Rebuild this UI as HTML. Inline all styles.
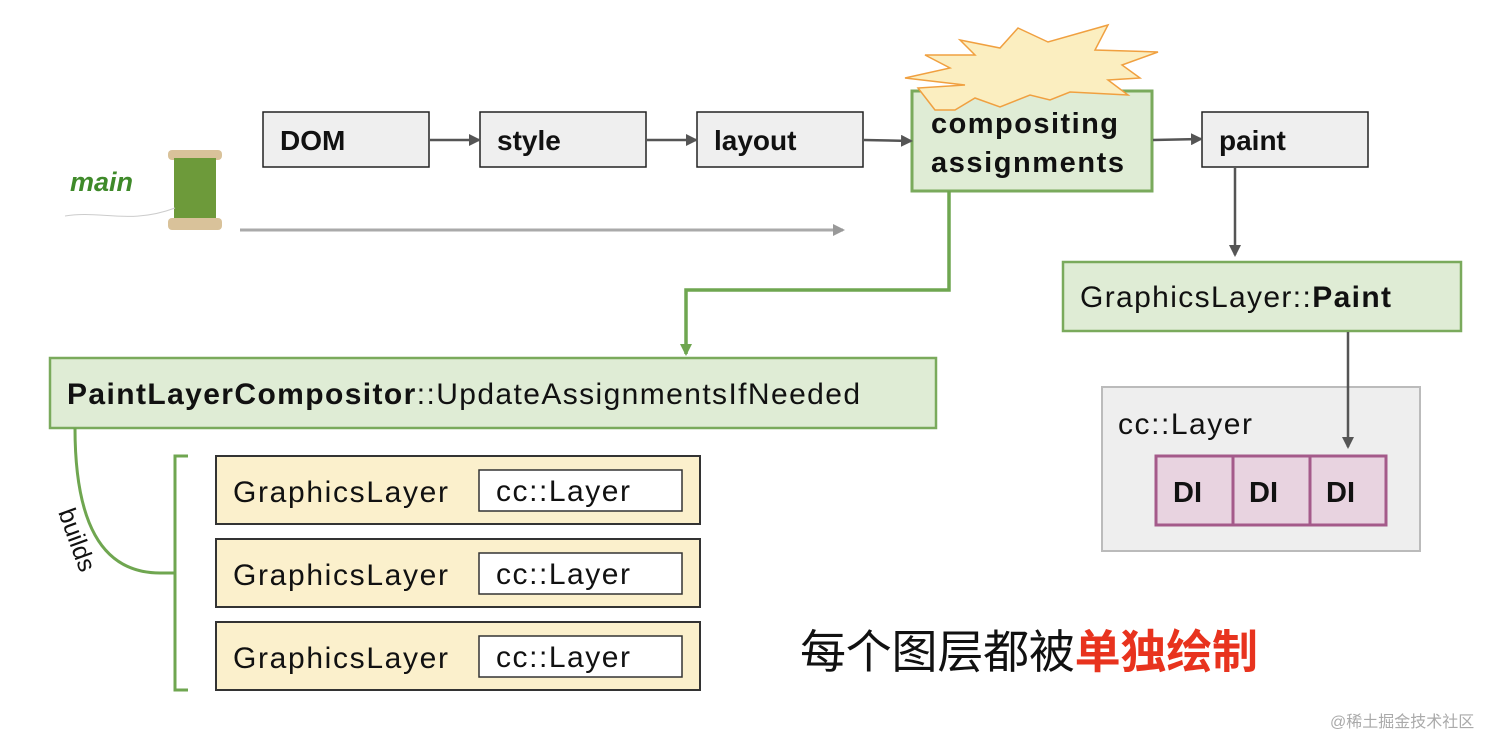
<!DOCTYPE html>
<html><head><meta charset="utf-8"><style>
body{margin:0;background:#fff;}
svg{display:block;font-family:"Liberation Sans","Noto Sans CJK SC",sans-serif;}
</style></head><body>
<svg width="1512" height="754" viewBox="0 0 1512 754" xmlns="http://www.w3.org/2000/svg">
<defs>
<marker id="a" markerWidth="12" markerHeight="12" refX="10" refY="6" orient="auto" markerUnits="userSpaceOnUse"><path d="M0,0 L12,6 L0,12z" fill="#555"/></marker>
<marker id="ag" markerWidth="12" markerHeight="12" refX="10" refY="6" orient="auto" markerUnits="userSpaceOnUse"><path d="M0,0 L12,6 L0,12z" fill="#999"/></marker>
<marker id="gr" markerWidth="12" markerHeight="12" refX="10" refY="6" orient="auto" markerUnits="userSpaceOnUse"><path d="M0,0 L12,6 L0,12z" fill="#6fa650"/></marker>
</defs>
<!-- thread spool -->
<text x="70" y="191" font-size="27" font-style="italic" font-weight="bold" fill="#3f8a2a">main</text>
<rect x="168" y="150" width="54" height="10" rx="4" fill="#d9c29a"/>
<rect x="174" y="158" width="42" height="62" fill="#6d9a3a"/>
<rect x="168" y="218" width="54" height="12" rx="4" fill="#d9c29a"/>
<path d="M65,216 C100,210 130,225 175,208" stroke="#ccc" fill="none"/>
<!-- top row -->
<g font-size="28" fill="#111" font-weight="bold">
<rect x="263" y="112" width="166" height="55" fill="#efefef" stroke="#222" stroke-width="1.5"/>
<text x="280" y="150">DOM</text>
<rect x="480" y="112" width="166" height="55" fill="#efefef" stroke="#222" stroke-width="1.5"/>
<text x="497" y="150">style</text>
<rect x="697" y="112" width="166" height="55" fill="#efefef" stroke="#222" stroke-width="1.5"/>
<text x="714" y="150">layout</text>
<rect x="1202" y="112" width="166" height="55" fill="#efefef" stroke="#222" stroke-width="1.5"/>
<text x="1219" y="150">paint</text>
</g>
<line x1="240" y1="230" x2="843" y2="230" stroke="#aaa" stroke-width="3" marker-end="url(#ag)"/>
<!-- compositing -->
<rect x="912" y="91" width="240" height="100" fill="#dfecd5" stroke="#7aaa5c" stroke-width="3"/>
<polygon points="935,110 918,88 965,85 905,78 950,68 925,55 975,55 960,40 1000,48 1018,28 1048,42 1108,25 1095,50 1158,52 1122,65 1140,78 1108,80 1128,95 1070,92 1050,100 1030,95 1000,107 975,98 955,110" fill="#fbeec0" stroke="#f0a040" stroke-width="1.5"/>
<text x="931" y="133" font-size="29" font-weight="bold" fill="#111" textLength="187">compositing</text>
<text x="931" y="172" font-size="29" font-weight="bold" fill="#111" textLength="193">assignments</text>
<polyline points="949,191 949,290 686,290 686,354" fill="none" stroke="#6fa650" stroke-width="3.5" marker-end="url(#gr)"/>
<!-- PaintLayerCompositor -->
<rect x="50" y="358" width="886" height="70" fill="#dfecd5" stroke="#7aaa5c" stroke-width="2.5"/>
<text x="67" y="404" font-size="30" fill="#111" textLength="793"><tspan font-weight="bold">PaintLayerCompositor</tspan>::UpdateAssignmentsIfNeeded</text>
<!-- GraphicsLayer::Paint -->
<rect x="1063" y="262" width="398" height="69" fill="#dfecd5" stroke="#7aaa5c" stroke-width="2.5"/>
<text x="1080" y="307" font-size="30" fill="#111" textLength="311">GraphicsLayer::<tspan font-weight="bold">Paint</tspan></text>
<!-- cc::Layer group -->
<rect x="1102" y="387" width="318" height="164" fill="#eeeeee" stroke="#bbb" stroke-width="2"/>
<text x="1118" y="434" font-size="30" fill="#111" textLength="134">cc::Layer</text>
<g stroke="#a45a8a" stroke-width="3" fill="#e8d3e0">
<rect x="1156" y="456" width="77" height="69"/>
<rect x="1233" y="456" width="77" height="69"/>
<rect x="1310" y="456" width="76" height="69"/>
</g>
<g font-size="29" fill="#111" font-weight="bold"><text x="1173" y="502">DI</text><text x="1249" y="502">DI</text><text x="1326" y="502">DI</text></g>
<g stroke="#555" stroke-width="2.5" marker-end="url(#a)">
<line x1="430" y1="140" x2="479" y2="140"/>
<line x1="647" y1="140" x2="696" y2="140"/>
<line x1="864" y1="140" x2="911" y2="141"/>
<line x1="1153" y1="140" x2="1201" y2="139"/>
<line x1="1235" y1="168" x2="1235" y2="255"/>
<line x1="1348" y1="332" x2="1348" y2="447"/>
</g>
<!-- GraphicsLayers -->
<g font-size="30" fill="#111">
<rect x="216" y="456" width="484" height="68" fill="#fbf0cc" stroke="#333" stroke-width="2"/>
<rect x="479" y="470" width="203" height="41" fill="#fff" stroke="#333" stroke-width="1.5"/>
<text x="233" y="502" textLength="215">GraphicsLayer</text><text x="496" y="501" textLength="134">cc::Layer</text>
<rect x="216" y="539" width="484" height="68" fill="#fbf0cc" stroke="#333" stroke-width="2"/>
<rect x="479" y="553" width="203" height="41" fill="#fff" stroke="#333" stroke-width="1.5"/>
<text x="233" y="585" textLength="215">GraphicsLayer</text><text x="496" y="584" textLength="134">cc::Layer</text>
<rect x="216" y="622" width="484" height="68" fill="#fbf0cc" stroke="#333" stroke-width="2"/>
<rect x="479" y="636" width="203" height="41" fill="#fff" stroke="#333" stroke-width="1.5"/>
<text x="233" y="668" textLength="215">GraphicsLayer</text><text x="496" y="667" textLength="134">cc::Layer</text>
</g>
<!-- brace -->
<path d="M188,456 L175,456 L175,690 L188,690 M175,573 L160,573 C100,573 75,520 75,428" fill="none" stroke="#6fa650" stroke-width="3"/>
<text x="0" y="0" font-size="25" fill="#111" transform="translate(58,512) rotate(70)">builds</text>
<!-- Chinese -->
<text x="800" y="668" font-size="46" fill="#111" textLength="458">每个图层都被<tspan fill="#e8331e" font-weight="bold">单独绘制</tspan></text>
<text x="1330" y="727" font-size="16" fill="#aaa">@稀土掘金技术社区</text>
</svg>
</body></html>
